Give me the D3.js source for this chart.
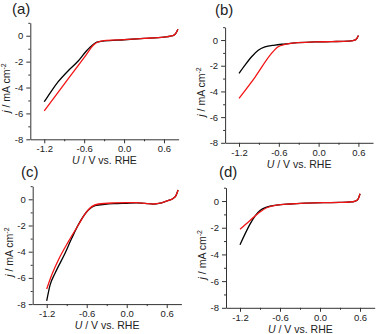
<!DOCTYPE html>
<html>
<head>
<meta charset="utf-8">
<script src="https://cdn.jsdelivr.net/npm/d3@7"></script>
<style>
  body { margin: 0; background: #fff; }
  svg { display: block; }
</style>
</head>
<body>
<svg id="chart" width="379" height="334"></svg>
<script>
// ---- values (U in V vs. RHE, j in mA cm-2) ----
const uA_black = [-1.2, -1.09, -0.99, -0.84, -0.69, -0.57, -0.46, -0.41, -0.3, 0, 0.3, 0.6, 0.7, 0.75, 0.78, 0.81];
const jA_black = [-5.1, -4.25, -3.55, -2.7, -1.95, -1.2, -0.66, -0.5, -0.4, -0.31, -0.21, -0.1, -0.03, 0.05, 0.2, 0.5];
const uA_red   = [-1.2, -0.83, -0.57, -0.46, -0.41, -0.3, 0, 0.3, 0.6, 0.7, 0.75, 0.78, 0.81];
const jA_red   = [-5.8, -3.26, -1.47, -0.72, -0.52, -0.38, -0.3, -0.2, -0.1, -0.03, 0.05, 0.2, 0.5];

const uB_black = [-1.2, -1.11, -1.01, -0.91, -0.81, -0.66, -0.5, -0.36, -0.06, 0.2, 0.45, 0.52, 0.56, 0.58, 0.6];
const jB_black = [-2.59, -1.95, -1.3, -0.8, -0.54, -0.39, -0.3, -0.22, -0.15, -0.12, -0.08, -0.04, 0.03, 0.15, 0.35];
const uB_red   = [-1.2, -0.96, -0.71, -0.61, -0.51, -0.36, -0.06, 0.2, 0.45, 0.52, 0.56, 0.58, 0.6];
const jB_red   = [-4.54, -2.9, -1.04, -0.52, -0.34, -0.22, -0.15, -0.12, -0.08, -0.04, 0.03, 0.15, 0.35];

const uC_black = [-1.2, -1.15, -1.075, -0.925, -0.825, -0.7, -0.575, -0.475, -0.325, -0.2, 0, 0.15, 0.275, 0.4, 0.5, 0.575, 0.65, 0.7, 0.74, 0.77];
const jC_black = [-7.76, -6.55, -5.65, -4.12, -2.98, -1.71, -0.82, -0.49, -0.38, -0.33, -0.3, -0.28, -0.31, -0.37, -0.3, -0.18, -0.05, 0.08, 0.3, 0.71];
const uC_red   = [-1.2, -1.125, -1.025, -0.875, -0.725, -0.6, -0.525, -0.425, -0.2, 0, 0.15, 0.275, 0.4, 0.5, 0.575, 0.65, 0.7, 0.74, 0.77];
const jC_red   = [-6.85, -5.78, -4.63, -3.23, -1.96, -0.94, -0.56, -0.36, -0.28, -0.26, -0.26, -0.31, -0.36, -0.3, -0.18, -0.05, 0.08, 0.3, 0.71];

const uD_black = [-1.2, -0.9, -0.8, -0.65, -0.45, -0.2, 0.05, 0.3, 0.45, 0.52, 0.56, 0.58, 0.6];
const jD_black = [-3.27, -0.7, -0.45, -0.3, -0.22, -0.16, -0.12, -0.1, -0.07, -0.02, 0.08, 0.25, 0.55];
const uD_red   = [-1.2, -1.05, -0.9, -0.8, -0.65, -0.45, -0.2, 0.05, 0.3, 0.45, 0.52, 0.56, 0.58, 0.6];
const jD_red   = [-2.12, -1.45, -0.82, -0.5, -0.3, -0.22, -0.16, -0.12, -0.1, -0.07, -0.02, 0.08, 0.25, 0.55];

const panelLabels = ["(a)", "(b)", "(c)", "(d)"];
const xMajor = [-1.2, -0.6, 0.0, 0.6];
const xMinor = [-0.9, -0.3, 0.3];
const yMajor = [-8, -6, -4, -2, 0];
const yMinor = [-7, -5, -3, -1, 1];
const xDomain = [-1.41, 0.82];
const yDomain = [-8, 1];

// ---- layout (pixel boxes of each plot area) ----
const layout = [
  { x0: 30.3, x1: 178.6, y0: 22.8, y1: 139.3, lx: 12, ly: 14 },
  { x0: 225.1, x1: 373, y0: 27.2, y1: 142.8, lx: 215, ly: 15 },
  { x0: 32.7, x1: 181.4, y0: 186.2, y1: 304.1, lx: 21, ly: 177 },
  { x0: 226, x1: 374.7, y0: 187.7, y1: 307.8, lx: 219, ly: 177 }
];

const series = [
  [[uA_black, jA_black], [uA_red, jA_red]],
  [[uB_black, jB_black], [uB_red, jB_red]],
  [[uC_black, jC_black], [uC_red, jC_red]],
  [[uD_black, jD_black], [uD_red, jD_red]]
];
const colors = ["#000000", "#f21414"];
const font = "'Liberation Sans', Arial, sans-serif";
const textColor = "#222";

const svg = d3.select("#chart");

layout.forEach((L, i) => {
  const x = d3.scaleLinear().domain(xDomain).range([L.x0, L.x1]);
  const y = d3.scaleLinear().domain(yDomain).range([L.y1, L.y0]);
  const g = svg.append("g");

  // minor ticks
  g.append("g")
    .attr("transform", `translate(0,${L.y1})`)
    .call(d3.axisBottom(x).tickValues(xMinor).tickSize(2).tickFormat(""))
    .call(a => a.select(".domain").remove());
  g.append("g")
    .attr("transform", `translate(${L.x0},0)`)
    .call(d3.axisLeft(y).tickValues(yMinor).tickSize(2).tickFormat(""))
    .call(a => a.select(".domain").remove());

  // major axes
  const xa = g.append("g")
    .attr("transform", `translate(0,${L.y1})`)
    .call(d3.axisBottom(x).tickValues(xMajor).tickSize(4).tickSizeOuter(0).tickPadding(2)
      .tickFormat(d => d.toFixed(1)));
  const ya = g.append("g")
    .attr("transform", `translate(${L.x0},0)`)
    .call(d3.axisLeft(y).tickValues(yMajor).tickSize(4).tickSizeOuter(0).tickPadding(3)
      .tickFormat(d => String(d)));
  [xa, ya].forEach(a => {
    a.selectAll("path, line").attr("stroke", "#333").attr("stroke-width", 1);
    a.selectAll("text").attr("fill", textColor).style("font-family", font).style("font-size", "9.5px");
  });
  g.selectAll("line").attr("stroke", "#333");

  // curves
  const line = d3.line()
    .x(d => x(d[0]))
    .y(d => y(d[1]))
    .curve(d3.curveMonotoneX);
  series[i].forEach((s, k) => {
    const pts = s[0].map((u, n) => [u, s[1][n]]);
    g.append("path")
      .datum(pts)
      .attr("d", line)
      .attr("fill", "none")
      .attr("stroke", colors[k])
      .attr("stroke-width", 1.3)
      .attr("stroke-linejoin", "round");
  });

  // axis titles
  const xt = g.append("text")
    .attr("x", (L.x0 + L.x1) / 2)
    .attr("y", L.y1 + 25)
    .attr("text-anchor", "middle")
    .attr("fill", textColor)
    .style("font-family", font)
    .style("font-size", "10.5px");
  xt.append("tspan").style("font-style", "italic").text("U");
  xt.append("tspan").text(" / V vs. RHE");

  const cy = (L.y0 + L.y1) / 2 + 7;
  const yt = g.append("text")
    .attr("transform", `translate(${L.x0 - 20},${cy}) rotate(-90)`)
    .attr("text-anchor", "middle")
    .attr("fill", textColor)
    .style("font-family", font)
    .style("font-size", "10.5px");
  yt.append("tspan").style("font-style", "italic").text("j");
  yt.append("tspan").text(" / mA cm");
  yt.append("tspan").attr("dy", -4).style("font-size", "7px").text("-2");

  // panel label
  g.append("text")
    .attr("x", L.lx)
    .attr("y", L.ly)
    .attr("fill", textColor)
    .style("font-family", font)
    .style("font-size", "15px")
    .text(panelLabels[i]);
});
</script>
</body>
</html>
